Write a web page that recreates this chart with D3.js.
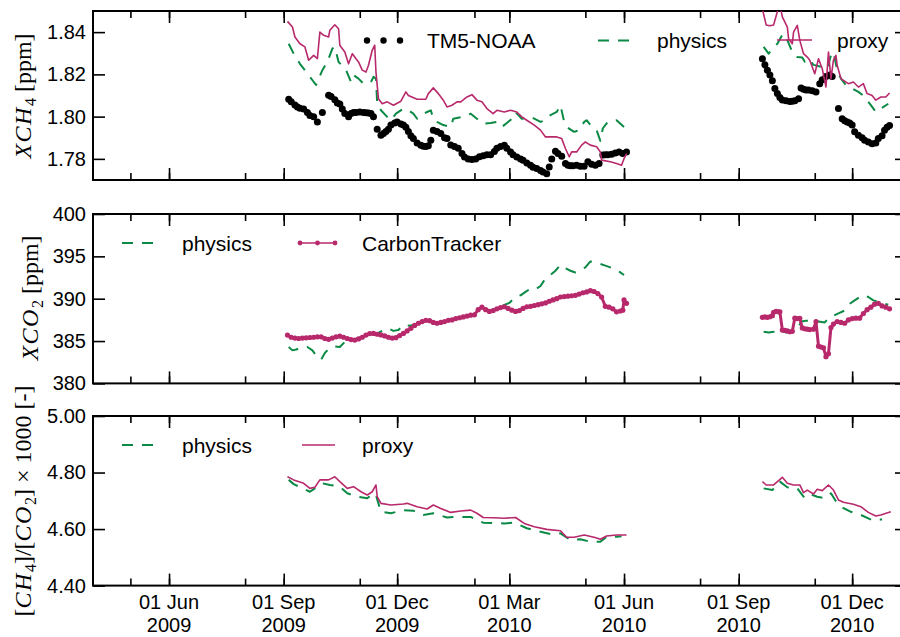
<!DOCTYPE html>
<html>
<head>
<meta charset="utf-8">
<script src="https://cdn.jsdelivr.net/npm/d3@7"></script>
<style>
body { margin: 0; background: #fff; }
svg { display: block; font-family: "Liberation Sans", Arial, sans-serif; }
.tick line { stroke: #000; stroke-width: 1.6; }
</style>
</head>
<body>
<script>
// ---- data ----
var xDomain = ['2009-04-01', '2011-01-14']
var xMajorTicks = ['2009-06-01', '2009-09-01', '2009-12-01', '2010-03-01', '2010-06-01', '2010-09-01', '2010-12-01']
var ch4Ticks = [1.78, 1.80, 1.82, 1.84]
var co2Ticks = [380, 385, 390, 395, 400]
var ratioTicks = [4.40, 4.60, 4.80, 5.00]

// XCH4 TM5-NOAA
var ch4Tm5 = [
['2009-09-05',1.8082],['2009-09-07',1.807],['2009-09-10',1.8055],['2009-09-12',1.8045],['2009-09-14',1.804],['2009-09-17',1.8036],['2009-09-20',1.802],['2009-09-22',1.8005],['2009-09-25',1.7999],['2009-09-28',1.7975],['2009-10-02',1.8019],
['2009-10-07',1.8101],['2009-10-09',1.8095],['2009-10-12',1.808],['2009-10-14',1.8065],['2009-10-16',1.806],['2009-10-18',1.8036],['2009-10-20',1.8015],['2009-10-23',1.7999],['2009-10-25',1.8015],['2009-10-27',1.802],['2009-10-29',1.802],['2009-11-01',1.8022],['2009-11-04',1.802],['2009-11-06',1.8018],['2009-11-08',1.8017],['2009-11-10',1.8015],['2009-11-12',1.800],
['2009-11-15',1.794],['2009-11-18',1.7912],['2009-11-20',1.792],['2009-11-22',1.793],['2009-11-24',1.794],['2009-11-26',1.796],['2009-11-29',1.797],['2009-12-01',1.7975],['2009-12-04',1.7965],['2009-12-06',1.796],['2009-12-08',1.795],['2009-12-10',1.793],['2009-12-12',1.791],['2009-12-14',1.7896],['2009-12-17',1.7875],['2009-12-20',1.7864],['2009-12-22',1.786],['2009-12-24',1.7858],['2009-12-26',1.7862],['2009-12-28',1.7888],
['2009-12-30',1.7936],['2010-01-02',1.793],['2010-01-05',1.792],['2010-01-08',1.790],['2010-01-10',1.7896],
['2010-01-13',1.7866],['2010-01-16',1.7858],['2010-01-19',1.785],['2010-01-22',1.7825],['2010-01-24',1.7809],['2010-01-27',1.780],['2010-01-30',1.7797],['2010-02-02',1.780],['2010-02-05',1.781],['2010-02-08',1.7815],['2010-02-11',1.782],['2010-02-14',1.782],['2010-02-17',1.7835],['2010-02-19',1.785],['2010-02-22',1.7858],['2010-02-25',1.7865],['2010-02-27',1.785],['2010-03-02',1.7833],['2010-03-04',1.782],['2010-03-07',1.7809],['2010-03-10',1.780],['2010-03-12',1.7794],['2010-03-15',1.778],['2010-03-18',1.777],['2010-03-20',1.776],['2010-03-23',1.7754],['2010-03-26',1.7745],['2010-03-28',1.7738],['2010-03-31',1.773],
['2010-04-02',1.7762],['2010-04-04',1.780],['2010-04-07',1.7836],['2010-04-09',1.7825],['2010-04-12',1.7812],['2010-04-15',1.7778],['2010-04-17',1.777],['2010-04-19',1.7768],['2010-04-21',1.7768],['2010-04-24',1.777],['2010-04-27',1.7765],['2010-04-30',1.7765],['2010-05-03',1.7786],['2010-05-06',1.7775],['2010-05-09',1.777],['2010-05-12',1.7778],['2010-05-15',1.7818],['2010-05-17',1.782],['2010-05-19',1.782],['2010-05-22',1.7822],['2010-05-25',1.7828],['2010-05-28',1.7832],['2010-05-31',1.7825],['2010-06-03',1.7833],
['2010-09-20',1.8274],['2010-09-22',1.8245],['2010-09-24',1.822],['2010-09-26',1.8197],['2010-09-28',1.817],['2010-09-30',1.8133],['2010-10-02',1.811],['2010-10-04',1.809],['2010-10-06',1.8079],['2010-10-09',1.8075],['2010-10-12',1.8072],['2010-10-14',1.8073],['2010-10-16',1.8075],['2010-10-19',1.8085],
['2010-10-21',1.8136],['2010-10-23',1.813],['2010-10-25',1.8126],['2010-10-27',1.8126],['2010-10-30',1.8122],['2010-11-02',1.8117],['2010-11-05',1.8156],['2010-11-07',1.8174],['2010-11-10',1.819],['2010-11-13',1.8197],['2010-11-15',1.819],
['2010-11-20',1.8038],['2010-11-23',1.799],['2010-11-25',1.798],['2010-11-27',1.7975],['2010-11-29',1.797],['2010-12-01',1.796],['2010-12-03',1.7928],['2010-12-06',1.7912],['2010-12-09',1.790],['2010-12-11',1.7888],['2010-12-14',1.788],['2010-12-17',1.7872],['2010-12-20',1.7875],['2010-12-22',1.7896],['2010-12-25',1.791],['2010-12-27',1.7935],['2010-12-29',1.795],['2010-12-31',1.7958]
]

// XCH4 physics
var ch4Physics = [
['2009-09-05',1.8345],['2009-09-09',1.8298],['2009-09-14',1.825],['2009-09-18',1.822],['2009-09-25',1.8165],['2009-09-27',1.815],['2009-10-02',1.822],['2009-10-06',1.8259],['2009-10-10',1.8322],['2009-10-12',1.833],['2009-10-15',1.8259],['2009-10-21',1.822],['2009-10-25',1.8164],['2009-10-27',1.8196],['2009-10-31',1.818],['2009-11-04',1.8156],['2009-11-10',1.8164],['2009-11-12',1.8188],['2009-11-14',1.818],['2009-11-15',1.806],['2009-11-18',1.803],['2009-11-23',1.7999],['2009-11-26',1.7983],['2009-11-30',1.8014],['2009-12-06',1.8038],['2009-12-10',1.803],['2009-12-14',1.8014],['2009-12-17',1.799],['2009-12-20',1.8005],['2009-12-25',1.8022],['2009-12-28',1.803],['2009-12-30',1.799],['2010-01-02',1.7975],['2010-01-07',1.796],['2010-01-13',1.7951],['2010-01-15',1.799],['2010-01-23',1.7999],['2010-01-29',1.8014],['2010-02-03',1.799],['2010-02-08',1.7967],['2010-02-14',1.797],['2010-02-19',1.7975],['2010-02-23',1.7951],['2010-02-27',1.797],['2010-03-03',1.799],['2010-03-06',1.8022],['2010-03-11',1.799],['2010-03-18',1.7999],['2010-03-26',1.7975],['2010-03-30',1.7983],['2010-04-03',1.8007],['2010-04-08',1.8022],['2010-04-11',1.8054],['2010-04-14',1.7975],['2010-04-16',1.7951],['2010-04-22',1.7928],['2010-04-26',1.7936],['2010-04-30',1.7975],['2010-05-02',1.7983],['2010-05-05',1.796],['2010-05-10',1.7936],['2010-05-13',1.7885],['2010-05-15',1.7945],['2010-05-19',1.7975],['2010-05-26',1.7983],['2010-06-01',1.7951],
['2010-09-21',1.833],['2010-09-25',1.8298],['2010-09-28',1.832],['2010-10-02',1.8345],['2010-10-06',1.8387],['2010-10-08',1.839],['2010-10-14',1.8306],['2010-10-18',1.8282],['2010-10-22',1.828],['2010-10-24',1.826],['2010-10-27',1.8274],['2010-10-31',1.8245],['2010-11-07',1.8235],['2010-11-11',1.8227],['2010-11-14',1.829],['2010-11-16',1.8306],['2010-11-19',1.822],['2010-11-22',1.818],['2010-11-26',1.8149],['2010-12-01',1.8133],['2010-12-06',1.8117],['2010-12-10',1.810],['2010-12-16',1.8054],['2010-12-20',1.8022],['2010-12-24',1.8038],['2010-12-30',1.8061]
]

// XCH4 proxy
var ch4Proxy = [
['2009-09-04',1.8451],['2009-09-08',1.8424],['2009-09-10',1.8377],['2009-09-14',1.8345],['2009-09-18',1.833],['2009-09-21',1.8267],['2009-09-25',1.829],['2009-09-28',1.8275],['2009-09-30',1.840],['2009-10-03',1.8385],['2009-10-07',1.8377],['2009-10-08',1.8409],['2009-10-12',1.8435],['2009-10-15',1.8416],['2009-10-16',1.8338],['2009-10-20',1.8306],['2009-10-23',1.825],['2009-10-26',1.8298],['2009-10-29',1.8274],['2009-10-31',1.8259],['2009-11-03',1.822],['2009-11-06',1.8211],['2009-11-08',1.8243],['2009-11-11',1.8314],['2009-11-13',1.8338],['2009-11-14',1.8211],['2009-11-16',1.8085],['2009-11-19',1.8061],['2009-11-23',1.807],['2009-11-28',1.8054],['2009-12-04',1.8073],['2009-12-08',1.8117],['2009-12-10',1.810],['2009-12-17',1.8082],['2009-12-24',1.8082],['2009-12-26',1.8109],['2009-12-30',1.8136],['2010-01-03',1.8109],['2010-01-07',1.8078],['2010-01-10',1.8046],['2010-01-14',1.8054],['2010-01-18',1.807],['2010-01-21',1.807],['2010-01-26',1.8093],['2010-01-30',1.8104],['2010-02-03',1.8078],['2010-02-07',1.807],['2010-02-11',1.8038],['2010-02-16',1.8014],['2010-02-19',1.803],['2010-02-25',1.8022],['2010-03-02',1.803],['2010-03-07',1.8022],['2010-03-11',1.7999],['2010-03-15',1.7983],['2010-03-21',1.796],['2010-03-26',1.7936],['2010-03-30',1.7904],['2010-04-03',1.7904],['2010-04-08',1.7904],['2010-04-12',1.7896],['2010-04-15',1.7849],['2010-04-18',1.781],['2010-04-20',1.7833],['2010-04-24',1.7833],['2010-04-28',1.7865],['2010-05-01',1.788],['2010-05-05',1.7865],['2010-05-10',1.7857],['2010-05-13',1.7833],['2010-05-14',1.7794],['2010-05-21',1.7786],['2010-05-26',1.7778],['2010-05-30',1.777],['2010-06-01',1.7801],['2010-06-03',1.7825],
['2010-09-20',1.851],['2010-09-23',1.8434],['2010-09-26',1.843],['2010-09-29',1.8434],['2010-10-02',1.8497],['2010-10-04',1.853],['2010-10-06',1.8472],['2010-10-10',1.8424],['2010-10-11',1.8369],['2010-10-14',1.8345],['2010-10-15',1.840],['2010-10-18',1.8432],['2010-10-20',1.8361],['2010-10-23',1.8298],['2010-10-26',1.8282],['2010-10-28',1.8267],['2010-11-01',1.8203],['2010-11-04',1.8274],['2010-11-07',1.8227],['2010-11-10',1.814],['2010-11-12',1.8306],['2010-11-14',1.818],['2010-11-16',1.8267],['2010-11-18',1.829],['2010-11-19',1.8243],['2010-11-22',1.818],['2010-11-24',1.8172],['2010-11-28',1.8156],['2010-12-02',1.8164],['2010-12-06',1.814],['2010-12-10',1.8156],['2010-12-13',1.8109],['2010-12-17',1.810],['2010-12-20',1.8078],['2010-12-24',1.8093],['2010-12-28',1.8093],['2010-12-31',1.8112]
]

// XCO2 physics
var co2Physics = [
['2009-09-05',384.3],['2009-09-08',383.9],['2009-09-11',384.0],['2009-09-16',384.3],['2009-09-20',384.3],['2009-09-24',383.9],['2009-09-28',383.1],['2009-10-01',382.8],['2009-10-04',383.6],['2009-10-08',384.2],['2009-10-12',384.35],['2009-10-16',384.3],['2009-10-20',384.9],['2009-10-25',385.1],['2009-10-30',385.3],['2009-11-04',385.6],['2009-11-10',385.9],['2009-11-15',385.9],['2009-11-20',386.3],['2009-11-24',386.5],['2009-11-28',386.2],['2009-12-02',386.3],['2009-12-06',386.9],['2009-12-11',386.8],['2009-12-16',386.95],['2009-12-21',387.3],['2009-12-26',387.4],['2009-12-31',387.2],['2010-01-05',387.2],['2010-01-10',387.4],['2010-01-15',387.5],['2010-01-20',387.7],['2010-01-25',387.9],['2010-01-30',388.0],['2010-02-04',388.6],['2010-02-09',388.8],['2010-02-14',388.6],['2010-02-19',388.9],['2010-02-24',389.2],['2010-03-01',389.5],['2010-03-06',390.2],['2010-03-10',390.4],['2010-03-14',390.8],['2010-03-18',391.2],['2010-03-22',391.1],['2010-03-26',391.5],['2010-03-30',392.4],['2010-04-03',392.8],['2010-04-07',393.3],['2010-04-11',394.0],['2010-04-15',393.6],['2010-04-19',393.3],['2010-04-23',393.1],['2010-04-27',393.4],['2010-05-01',393.7],['2010-05-05',394.4],['2010-05-09',394.3],['2010-05-13',394.1],['2010-05-17',393.9],['2010-05-21',393.7],['2010-05-25',393.5],['2010-05-29',393.1],['2010-06-01',392.8],
['2010-09-21',386.1],['2010-09-25',386.0],['2010-09-29',386.1],['2010-10-04',386.3],['2010-10-09',386.0],['2010-10-14',386.2],['2010-10-18',386.3],['2010-10-21',387.3],['2010-10-25',387.4],['2010-10-30',387.4],['2010-11-04',387.3],['2010-11-09',387.2],['2010-11-12',387.7],['2010-11-16',388.0],['2010-11-20',388.27],['2010-11-25',388.6],['2010-11-29',389.4],['2010-12-03',389.8],['2010-12-07',390.2],['2010-12-11',390.43],['2010-12-14',390.2],['2010-12-18',389.8],['2010-12-22',389.64],['2010-12-26',389.45],['2010-12-30',389.3]
]

// XCO2 CarbonTracker
var co2CarbonTracker = [
['2009-09-04',385.7],['2009-09-07',385.45],['2009-09-10',385.35],['2009-09-13',385.3],['2009-09-16',385.35],['2009-09-19',385.38],['2009-09-22',385.42],['2009-09-25',385.45],['2009-09-28',385.5],['2009-10-01',385.5],['2009-10-04',385.3],['2009-10-07',385.2],['2009-10-10',385.35],['2009-10-13',385.5],['2009-10-16',385.58],['2009-10-19',385.45],['2009-10-22',385.3],['2009-10-25',385.18],['2009-10-28',385.12],['2009-10-31',385.25],['2009-11-03',385.45],['2009-11-06',385.7],['2009-11-09',385.88],['2009-11-12',385.9],['2009-11-15',385.8],['2009-11-18',385.72],['2009-11-21',385.6],['2009-11-24',385.45],['2009-11-27',385.35],['2009-11-30',385.4],['2009-12-03',385.65],['2009-12-06',385.9],['2009-12-09',386.2],['2009-12-12',386.5],['2009-12-15',386.85],['2009-12-18',387.1],['2009-12-21',387.3],['2009-12-24',387.45],['2009-12-27',387.4],['2009-12-30',387.2],['2010-01-02',387.1],['2010-01-05',387.2],['2010-01-08',387.3],['2010-01-11',387.45],['2010-01-14',387.5],['2010-01-17',387.65],['2010-01-20',387.75],['2010-01-23',387.85],['2010-01-26',387.95],['2010-01-29',388.05],['2010-02-01',388.1],['2010-02-04',388.7],['2010-02-07',389.0],['2010-02-10',388.7],['2010-02-13',388.5],['2010-02-16',388.6],['2010-02-19',388.8],['2010-02-22',388.95],['2010-02-25',389.05],['2010-02-28',388.85],['2010-03-03',388.65],['2010-03-06',388.5],['2010-03-09',388.6],['2010-03-12',388.85],['2010-03-15',389.05],['2010-03-18',389.1],['2010-03-21',389.2],['2010-03-24',389.3],['2010-03-27',389.4],['2010-03-30',389.5],['2010-04-02',389.7],['2010-04-05',389.85],['2010-04-08',390.0],['2010-04-11',390.2],['2010-04-14',390.25],['2010-04-17',390.3],['2010-04-20',390.35],['2010-04-23',390.4],['2010-04-26',390.55],['2010-04-29',390.7],['2010-05-02',390.8],['2010-05-05',390.95],['2010-05-08',390.85],['2010-05-11',390.6],['2010-05-14',390.2],['2010-05-17',389.1],['2010-05-20',389.0],['2010-05-23',388.8],['2010-05-26',388.45],['2010-05-29',388.55],['2010-05-31',388.65],['2010-06-01',389.85],['2010-06-03',389.45],
['2010-09-20',387.8],['2010-09-22',387.85],['2010-09-24',387.8],['2010-09-26',387.87],['2010-09-28',388.0],['2010-09-29',388.4],['2010-10-01',388.5],['2010-10-03',388.45],['2010-10-04',388.46],['2010-10-06',386.3],['2010-10-08',386.25],['2010-10-10',386.2],['2010-10-12',386.1],['2010-10-14',386.15],['2010-10-16',387.7],['2010-10-18',387.65],['2010-10-20',387.68],['2010-10-22',386.55],['2010-10-24',386.45],['2010-10-26',386.4],['2010-10-28',386.35],['2010-10-31',386.4],['2010-11-02',387.3],['2010-11-04',384.4],['2010-11-06',384.3],['2010-11-08',384.2],['2010-11-10',383.15],['2010-11-12',383.5],['2010-11-14',386.6],['2010-11-16',387.0],['2010-11-19',387.3],['2010-11-22',387.2],['2010-11-25',387.1],['2010-11-28',387.5],['2010-12-01',387.65],['2010-12-04',387.7],['2010-12-07',387.7],['2010-12-10',388.25],['2010-12-13',388.7],['2010-12-16',389.0],['2010-12-19',389.35],['2010-12-22',389.45],['2010-12-25',389.15],['2010-12-28',389.0],['2010-12-31',388.8]
]

// ratio physics
var ratioPhysics = [
['2009-09-05',4.774],['2009-09-09',4.759],['2009-09-22',4.732],['2009-10-02',4.762],['2009-10-08',4.756],['2009-10-16',4.750],['2009-10-22',4.7265],['2009-10-30',4.7145],['2009-11-07',4.709],['2009-11-12',4.7265],['2009-11-14',4.72],['2009-11-18',4.661],['2009-11-26',4.656],['2009-12-06',4.667],['2009-12-14',4.665],['2009-12-22',4.650],['2009-12-30',4.656],['2010-01-10',4.641],['2010-01-18',4.643],['2010-01-29',4.643],['2010-02-08',4.6225],['2010-02-25',4.620],['2010-03-05',4.6225],['2010-03-15',4.603],['2010-03-23',4.594],['2010-04-03',4.5825],['2010-04-11',4.585],['2010-04-19',4.561],['2010-04-27',4.564],['2010-05-05',4.555],['2010-05-13',4.555],['2010-05-18',4.573],['2010-05-26',4.573],['2010-05-30',4.575],
['2010-09-21',4.744],['2010-09-28',4.738],['2010-10-04',4.768],['2010-10-10',4.748],['2010-10-18',4.744],['2010-10-23',4.7145],['2010-10-26',4.727],['2010-11-03',4.7145],['2010-11-09',4.709],['2010-11-14',4.7265],['2010-11-19',4.691],['2010-11-22',4.679],['2010-11-30',4.661],['2010-12-08',4.650],['2010-12-18',4.630],['2010-12-25',4.6345]
]

// ratio proxy
var ratioProxy = [
['2009-09-04',4.785],['2009-09-09',4.774],['2009-09-17',4.762],['2009-09-22',4.744],['2009-09-26',4.748],['2009-09-30',4.774],['2009-10-07',4.774],['2009-10-12',4.785],['2009-10-16',4.768],['2009-10-22',4.744],['2009-10-27',4.750],['2009-11-02',4.732],['2009-11-07',4.7205],['2009-11-11',4.732],['2009-11-14',4.756],['2009-11-15',4.7145],['2009-11-18',4.691],['2009-11-26',4.685],['2009-12-06',4.6887],['2009-12-09',4.691],['2009-12-17',4.679],['2009-12-25',4.671],['2009-12-30',4.685],['2010-01-05',4.673],['2010-01-13',4.659],['2010-01-21',4.664],['2010-01-29',4.667],['2010-02-03',4.656],['2010-02-08',4.641],['2010-02-16',4.640],['2010-02-25',4.638],['2010-03-06',4.641],['2010-03-13',4.620],['2010-03-21',4.608],['2010-03-31',4.599],['2010-04-11',4.594],['2010-04-16',4.571],['2010-04-22',4.571],['2010-04-30',4.579],['2010-05-08',4.571],['2010-05-13',4.564],['2010-05-18',4.5755],['2010-05-26',4.579],['2010-06-03',4.579],
['2010-09-20',4.768],['2010-09-23',4.756],['2010-09-29',4.756],['2010-10-06',4.783],['2010-10-10',4.762],['2010-10-15',4.756],['2010-10-20',4.756],['2010-10-23',4.729],['2010-10-26',4.738],['2010-10-31',4.724],['2010-11-03',4.741],['2010-11-07',4.736],['2010-11-12',4.756],['2010-11-16',4.738],['2010-11-20',4.703],['2010-11-24',4.695],['2010-12-02',4.6876],['2010-12-08',4.679],['2010-12-14',4.659],['2010-12-20',4.646],['2010-12-24',4.650],['2011-01-01',4.661]
]

// ---- drawing ----
var W = 900, H = 637
var left = 93, right = 907
var magenta = '#b8296c', green = '#0b8a45'
var parse = d3.timeParse('%Y-%m-%d')

var svg = d3.select('body').append('svg')
	.attr('width', W).attr('height', H)

var x = d3.scaleTime()
	.domain(xDomain.map(parse))
	.range([left, right])

var majorDates = xMajorTicks.map(parse)
var minorDates = d3.timeMonth.range(parse(xDomain[0]), parse(xDomain[1]))
	.filter(function(d){ return d.getMonth() % 3 != 0 })

function prep(arr){
	return arr.map(function(d){ return [parse(d[0]), d[1]] })
}

// break the series where there is a long gap in time
function segments(arr){
	var out = [], cur = []
	arr.forEach(function(d, i){
		if (i > 0 && (d[0] - arr[i-1][0]) > 40 * 864e5) { out.push(cur); cur = [] }
		cur.push(d)
	})
	out.push(cur)
	return out
}

function makePanel(id, top, bottom, domain, ticks, fmt){
	var y = d3.scaleLinear().domain(domain).range([bottom, top])

	svg.append('clipPath').attr('id', id)
		.append('rect').attr('x', left).attr('y', top)
		.attr('width', right - left).attr('height', bottom - top)

	var axes = svg.append('g')
	axes.append('g').attr('transform', 'translate(' + left + ',0)')
		.call(d3.axisLeft(y).tickValues(ticks).tickSizeInner(-12).tickSizeOuter(0).tickPadding(7).tickFormat(d3.format(fmt)))
	axes.append('g').attr('transform', 'translate(' + right + ',0)')
		.call(d3.axisRight(y).tickValues(ticks).tickSizeInner(-12).tickSizeOuter(0).tickFormat(''))
	axes.append('g').attr('transform', 'translate(0,' + bottom + ')')
		.call(d3.axisBottom(x).tickValues(majorDates).tickSizeInner(-12).tickSizeOuter(0).tickFormat(''))
	axes.append('g').attr('transform', 'translate(0,' + bottom + ')')
		.call(d3.axisBottom(x).tickValues(minorDates).tickSizeInner(-7).tickSizeOuter(0).tickFormat(''))
	axes.append('g').attr('transform', 'translate(0,' + top + ')')
		.call(d3.axisTop(x).tickValues(majorDates).tickSizeInner(-12).tickSizeOuter(0).tickFormat(''))
	axes.append('g').attr('transform', 'translate(0,' + top + ')')
		.call(d3.axisTop(x).tickValues(minorDates).tickSizeInner(-7).tickSizeOuter(0).tickFormat(''))
	axes.selectAll('.domain').remove()
	axes.selectAll('text')
		.attr('font-family', '"Liberation Sans", Arial, sans-serif')
		.attr('font-size', 20).attr('fill', '#000')

	// frame
	svg.append('rect')
		.attr('x', left).attr('y', top)
		.attr('width', right - left).attr('height', bottom - top)
		.attr('fill', 'none').attr('stroke', '#000').attr('stroke-width', 2)

	var plot = svg.append('g').attr('clip-path', 'url(#' + id + ')')
	return {y: y, plot: plot}
}

function drawLine(p, data, color, width, dash){
	var line = d3.line()
		.x(function(d){ return x(d[0]) })
		.y(function(d){ return p.y(d[1]) })
	p.plot.selectAll(null).data(segments(prep(data))).enter()
		.append('path')
		.attr('d', line)
		.attr('fill', 'none')
		.attr('stroke', color)
		.attr('stroke-width', width)
		.attr('stroke-dasharray', dash || null)
		.attr('stroke-linejoin', 'round')
}

function drawDots(p, data, color, r){
	p.plot.selectAll(null).data(prep(data)).enter()
		.append('circle')
		.attr('cx', function(d){ return x(d[0]) })
		.attr('cy', function(d){ return p.y(d[1]) })
		.attr('r', r)
		.attr('fill', color)
}

function legendText(tx, ty, label){
	svg.append('text')
		.attr('x', tx).attr('y', ty)
		.attr('dominant-baseline', 'central')
		.attr('font-size', 21)
		.text(label)
}
function legendLine(x1, x2, ly, color, width, dash){
	svg.append('line')
		.attr('x1', x1).attr('x2', x2).attr('y1', ly).attr('y2', ly)
		.attr('stroke', color).attr('stroke-width', width)
		.attr('stroke-dasharray', dash || null)
}

var dash = '11,9'

// top panel: XCH4
var p1 = makePanel('clip1', 11, 180, [1.77, 1.85], ch4Ticks, '.2f')
drawDots(p1, ch4Tm5, '#000', 3.5)
drawLine(p1, ch4Physics, green, 2, dash)
drawLine(p1, ch4Proxy, magenta, 1.6)

// middle panel: XCO2
var p2 = makePanel('clip2', 214, 383.4, [380, 400], co2Ticks, 'd')
drawLine(p2, co2Physics, green, 2, dash)
drawLine(p2, co2CarbonTracker, magenta, 3)
drawDots(p2, co2CarbonTracker, magenta, 2.6)

// bottom panel: ratio
var p3 = makePanel('clip3', 416, 585.6, [4.40, 5.00], ratioTicks, '.2f')
drawLine(p3, ratioPhysics, green, 2, dash)
drawLine(p3, ratioProxy, magenta, 1.6)

// bottom date labels
var dayMon = d3.timeFormat('%d %b'), yr = d3.timeFormat('%Y')
var lab = svg.append('g').attr('font-size', 20).attr('text-anchor', 'middle')
majorDates.forEach(function(d){
	lab.append('text').attr('x', x(d)).attr('y', 602).attr('dominant-baseline', 'central').text(dayMon(d))
	lab.append('text').attr('x', x(d)).attr('y', 625).attr('dominant-baseline', 'central').text(yr(d))
})

// legends
;[367, 383.5, 400].forEach(function(cx){
	svg.append('circle').attr('cx', cx).attr('cy', 40.5).attr('r', 3.2).attr('fill', '#000')
})
legendText(427, 40.5, 'TM5-NOAA')
legendLine(598, 631, 40.5, green, 2, dash)
legendText(657, 40.5, 'physics')
legendLine(777, 812, 40, magenta, 1.6)
legendText(837, 40, 'proxy')

legendLine(122, 155, 243, green, 2, dash)
legendText(182, 243, 'physics')
legendLine(300, 335, 243, magenta, 1.6)
;[300, 317.5, 335].forEach(function(cx){
	svg.append('circle').attr('cx', cx).attr('cy', 243).attr('r', 2.4).attr('fill', magenta)
})
legendText(362, 243, 'CarbonTracker')

legendLine(122, 155, 445, green, 2, dash)
legendText(182, 445, 'physics')
legendLine(302, 335, 445, magenta, 1.6)
legendText(362, 445, 'proxy')

// y labels
function yLabel(lx, ly, parts){
	var t = svg.append('text')
		.attr('transform', 'translate(' + lx + ',' + ly + ') rotate(-90)')
		.attr('text-anchor', 'middle')
		.attr('font-family', '"Liberation Serif", "Times New Roman", serif')
		.attr('font-size', 24)
	parts.forEach(function(p){
		var s = t.append('tspan').text(p[0])
		if (p[1] == 'i') s.attr('font-style', 'italic').attr('letter-spacing', 1.5)
		if (p[1] == 'sub') s.attr('font-size', 16).attr('dy', 5)
		if (p[1] == 'up') s.attr('dy', -5)
	})
}
yLabel(31, 96, [['XCH', 'i'], ['4', 'sub'], [' [ppm]', 'up']])
yLabel(38, 298, [['XCO', 'i'], ['2', 'sub'], [' [ppm]', 'up']])
yLabel(31, 501, [['[', ''], ['CH', 'i'], ['4', 'sub'], [']/[', 'up'], ['CO', 'i'], ['2', 'sub'], [']', 'up'], [' \u00d7 1000 [-]', '']])
</script>
</body>
</html>
